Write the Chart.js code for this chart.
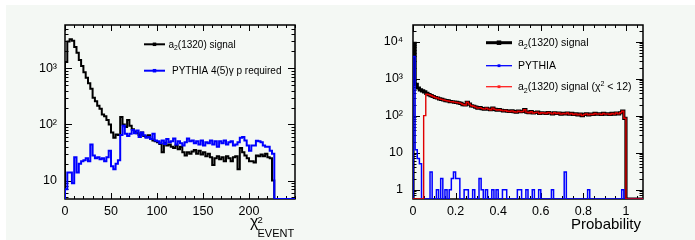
<!DOCTYPE html>
<html><head><meta charset="utf-8">
<script src="https://cdn.jsdelivr.net/npm/chart.js@4.4.1/dist/chart.umd.min.js"></script>
<style>
html,body{margin:0;padding:0;background:#fff;width:695px;height:240px;overflow:hidden}
canvas{position:absolute;top:5px;background:#f4f8f4}
#c1{left:6px}
#c2{left:347px}
</style></head><body>
<canvas id="c1" width="341" height="235"></canvas>
<canvas id="c2" width="348" height="235"></canvas>
<script>
// ---------------- DATA ----------------
// Left panel: chi2_EVENT histograms, 100 bins of width 2.5 from 0 to 250
const CHI2_MIN = 0;
const CHI2_BIN = 2.5;
const chi2Signal = [
  1300,3000,3300,3100,2400,1900,1400,1100,850,680,
  540,430,300,260,215,190,150,140,120,100,
  72,58,66,65,135,100,90,120,95,82,
  75,70,65,72,62,60,64,55,52,50,
  48,45,32,47,42,44,40,38,42,36,
  40,32,28,32,30,33,35,30,34,29,
  32,27,30,26,19,25,27,24,26,22,
  27,25,22,26,27,16,38,32,28,25,
  22,22,21,28,27,29,27,30,26,25,
  10,0,0,0,0,0,0,0,0,0
];
const chi2Pythia = [
  7,14,14,9,26,14,20,22,23,25,
  22,44,28,25,26,24,25,22,26,34,
  18,16,20,23,65,95,68,62,68,80,
  70,78,60,72,64,58,60,55,68,52,
  50,46,52,45,55,48,50,56,44,50,
  46,42,48,56,50,52,46,50,44,52,
  42,48,46,52,44,50,40,50,46,52,
  44,48,50,42,44,48,58,60,52,42,
  34,42,42,51,50,48,42,40,40,34,
  30,0,0,0,0,0,0,0,0,0
];
const chi2XTicks = [0,50,100,150,200];
const chi2XLabels = ['0','50','100','150','200'];
const chi2YTicks = [10,100,1000];
const chi2YLabels = ['10','10²','10³'];

// Right panel: probability histograms, 108 bins of width 0.01 from 0 to 1.08
const PROB_MIN = 0;
const PROB_BIN = 0.01;
const probSignal = [
  9000,700,560,500,470,440,400,370,350,330,
  310,300,285,275,265,255,250,240,238,232,
  228,222,215,200,195,230,205,185,180,170,
  160,165,155,150,158,150,145,160,148,142,
  145,140,135,138,132,130,135,128,125,132,
  128,130,145,125,120,128,118,122,125,115,
  120,118,115,122,118,112,120,115,118,110,
  115,112,118,110,115,108,112,105,110,100,
  108,112,105,110,108,115,110,112,108,115,
  110,112,108,115,110,118,112,120,132,85,
  0,0,0,0,0,0,0,0
];
const probPythia = [
  4000,12,7,5,0,0,0,0,3,0,
  0,1,0,2,0,1,0,1,2,3,
  2,2,0,0,1,1,0,0,1,0,
  0,2,1,0,1,0,0,1,0,1,
  0,0,1,1,0,0,0,0,0,1,
  1,0,0,1,0,0,1,0,0,1,
  0,0,0,0,0,1,0,0,0,0,
  0,3,0,0,0,0,0,0,0,0,
  0,0,1,0,0,0,0,0,0,0,
  0,0,0,0,0,0,0,0,1,0,
  0,0,0,0,0,0,0,0
];
const probSignalCut = [
  0,0,0,0,0,100,380,370,350,330,
  310,300,285,275,265,255,250,240,238,232,
  228,222,215,200,195,230,205,185,180,170,
  160,165,155,150,158,150,145,160,148,142,
  145,140,135,138,132,130,135,128,125,132,
  128,130,145,125,120,128,118,122,125,115,
  120,118,115,122,118,112,120,115,118,110,
  115,112,118,110,115,108,112,105,110,100,
  108,112,105,110,108,115,110,112,108,115,
  110,112,108,115,110,118,112,120,132,85,
  0,0,0,0,0,0,0,0
];
const probXTicks = [0,0.2,0.4,0.6,0.8,1];
const probXLabels = ['0','0.2','0.4','0.6','0.8','1'];
const probYTicks = [1,10,100,1000,10000];
const probYLabels = ['1','10','10²','10³','10⁴'];

// Legend texts (parts: normal / sub / sup)
const leftLegend = [
  {color:'#000', parts:[{t:'a'},{t:'2',sub:1},{t:'(1320) signal'}]},
  {color:'#0000ff', parts:[{t:'PYTHIA 4(5)γ p required'}]}
];
const rightLegend = [
  {color:'#000', parts:[{t:'a'},{t:'2',sub:1},{t:'(1320) signal'}]},
  {color:'#0000ff', parts:[{t:'PYTHIA'}]},
  {color:'#ff2020', parts:[{t:'a'},{t:'2',sub:1},{t:'(1320) signal (χ'},{t:'2',sup:1},{t:' < 12)'}]}
];

// ---------------- RENDER ----------------
const FONT = "'Liberation Sans', Arial, Helvetica, sans-serif";
Chart.defaults.font.family = FONT;

function histPoints(lo, w, vals, floor) {
  const pts = [{x: lo, y: floor}];
  vals.forEach((v, i) => pts.push({x: lo + i * w, y: v > 0 ? v : floor}));
  pts.push({x: lo + vals.length * w, y: floor});
  return pts;
}
function logTicks(min, max) {
  const out = [];
  for (let e = Math.floor(Math.log10(min)); e <= Math.ceil(Math.log10(max)); e++)
    for (let k = 1; k <= 9; k++) { const v = k * Math.pow(10, e); if (v >= min && v <= max) out.push(v); }
  return out;
}
function labelFor(ticks, labels) {
  return (v) => { const i = ticks.findIndex(t => Math.abs(t - v) <= 1e-9 * Math.max(1, Math.abs(t))); return i >= 0 ? labels[i] : ''; };
}
function drawRich(ctx, parts, x, y, size) {
  let cx = x;
  ctx.textBaseline = 'alphabetic'; ctx.textAlign = 'left';
  for (const p of parts) {
    const s = (p.sub || p.sup) ? size * 0.68 : size;
    ctx.font = s + 'px ' + FONT;
    const dy = p.sub ? size * 0.28 : p.sup ? -size * 0.42 : 0;
    ctx.fillText(p.t, cx, y + dy);
    cx += ctx.measureText(p.t).width;
  }
}

const framePlugin = {
  id: 'frame',
  beforeDatasetsDraw(chart, args, opts) {
    const {ctx, chartArea: a, scales: {x, y}} = chart;
    ctx.save();
    ctx.strokeStyle = '#000';
    ctx.lineWidth = 1;
    ctx.beginPath();
    for (const t of x.ticks) {
      const px = Math.round(x.getPixelForValue(t.value)) + 0.5;
      const L = t.label ? 6 : 3;
      ctx.moveTo(px, a.bottom); ctx.lineTo(px, a.bottom - L);
      ctx.moveTo(px, a.top); ctx.lineTo(px, a.top + L);
    }
    for (const t of y.ticks) {
      const py = Math.round(y.getPixelForValue(t.value)) + 0.5;
      const L = t.label ? 7 : 3.5;
      ctx.moveTo(a.left, py); ctx.lineTo(a.left + L, py);
      ctx.moveTo(a.right, py); ctx.lineTo(a.right - L, py);
    }
    ctx.stroke();
    ctx.lineWidth = 1.5;
    ctx.strokeRect(a.left, a.top, a.right - a.left, a.bottom - a.top);
    ctx.restore();
  },
  afterDraw(chart, args, opts) {
    const ctx = chart.ctx;
    ctx.save();
    ctx.fillStyle = '#000';
    const L = opts.legend;
    L.entries.forEach((e, i) => {
      const ly = L.lineY[i];
      ctx.strokeStyle = e.color; ctx.lineWidth = L.widths[i];
      ctx.beginPath(); ctx.moveTo(L.x0, ly); ctx.lineTo(L.x1, ly); ctx.stroke();
      ctx.fillStyle = e.color;
      const m = L.widths[i] + 1.5, mx = (L.x0 + L.x1) / 2;
      ctx.fillRect(mx - m / 2, ly - m / 2, m, m);
      ctx.fillStyle = '#000';
      drawRich(ctx, e.parts, L.textX[i], ly + L.baseOff, L.size);
    });
    opts.title(ctx);
    ctx.restore();
  }
};

function makeChart(id, cfg) {
  const datasets = cfg.series.map(s => ({
    data: histPoints(cfg.lo, cfg.bin, s.values, cfg.ymin),
    borderColor: s.color, borderWidth: s.width, stepped: 'before',
    pointRadius: 0, fill: false, tension: 0, order: s.order,
    borderJoinStyle: 'miter', borderCapStyle: 'butt'
  }));
  return new Chart(document.getElementById(id), {
    type: 'line',
    data: {datasets},
    options: {
      responsive: false, animation: false, devicePixelRatio: 1,
      layout: {padding: {left: 0, top: 20, right: cfg.padRight, bottom: 0}},
      plugins: {legend: {display: false}, tooltip: {enabled: false}, frame: {legend: cfg.legend, title: cfg.title}},
      scales: {
        x: {
          type: 'linear', min: cfg.xmin, max: cfg.xmax, bounds: 'data',
          grid: {display: false, drawTicks: false}, border: {display: false},
          afterBuildTicks: s => { s.ticks = cfg.xMinor.map(v => ({value: v})); },
          afterFit: s => { s.height = 41; },
          ticks: {autoSkip: false, maxRotation: 0, padding: 5, color: '#000',
                  font: {size: 12.5}, callback: labelFor(cfg.xTicks, cfg.xLabels)}
        },
        y: {
          type: 'logarithmic', min: cfg.ymin, max: cfg.ymax, bounds: 'data',
          grid: {display: false, drawTicks: false}, border: {display: false},
          afterBuildTicks: s => { s.ticks = logTicks(cfg.ymin, cfg.ymax).map(v => ({value: v})); },
          afterFit: s => { s.width = cfg.yWidth; },
          ticks: {autoSkip: false, padding: cfg.yPad, color: '#000',
                  font: {size: 12.5}, callback: labelFor(cfg.yTicks, cfg.yLabels)}
        }
      }
    },
    plugins: [framePlugin]
  });
}

const chi2Minor = []; for (let i = 0; i <= 25; i++) chi2Minor.push(i * 10);
const probMinor = []; for (let i = 0; i <= 21; i++) probMinor.push(+(i * 0.05).toFixed(2));

makeChart('c1', {
  lo: CHI2_MIN, bin: CHI2_BIN, xmin: 0, xmax: 250, ymin: 4.7, ymax: 5900,
  padRight: 52, yWidth: 59, yPad: 8,
  xMinor: chi2Minor, xTicks: chi2XTicks, xLabels: chi2XLabels,
  yTicks: chi2YTicks, yLabels: chi2YLabels,
  series: [
    {values: chi2Signal, color: '#000000', width: 2, order: 2},
    {values: chi2Pythia, color: '#0000ff', width: 2, order: 1}
  ],
  legend: {entries: leftLegend, x0: 138, x1: 159, lineY: [39.3, 65.7], widths: [2, 2],
           textX: [162.5, 166], baseOff: 3.3, size: 10},
  title: ctx => {
    ctx.fillStyle = '#000';
    drawRich(ctx, [{t:'χ'}], 244, 222, 16);
    ctx.font = '9.5px ' + FONT; ctx.fillText('2', 251.5, 218.3);
    ctx.font = '11px ' + FONT; ctx.fillText('EVENT', 251.5, 231.7);
  }
});

makeChart('c2', {
  lo: PROB_MIN, bin: PROB_BIN, xmin: 0, xmax: 1.08, ymin: 0.56, ymax: 28200,
  padRight: 52, yWidth: 66, yPad: 10,
  xMinor: probMinor, xTicks: probXTicks, xLabels: probXLabels,
  yTicks: probYTicks, yLabels: probYLabels,
  series: [
    {values: probSignal, color: '#000000', width: 3.2, order: 3},
    {values: probPythia, color: '#0000ff', width: 1.5, order: 2},
    {values: probSignalCut, color: '#e00000', width: 1.4, order: 1}
  ],
  legend: {entries: rightLegend, x0: 139, x1: 165, lineY: [37.7, 60.7, 81.7], widths: [3, 1.3, 1.3],
           textX: [171, 171, 171], baseOff: 3.4, size: 10.5},
  title: ctx => {
    ctx.fillStyle = '#000';
    ctx.font = '15px ' + FONT; ctx.textAlign = 'right'; ctx.textBaseline = 'alphabetic';
    ctx.fillText('Probability', 294, 224.3);
  }
});
</script>
</body></html>
